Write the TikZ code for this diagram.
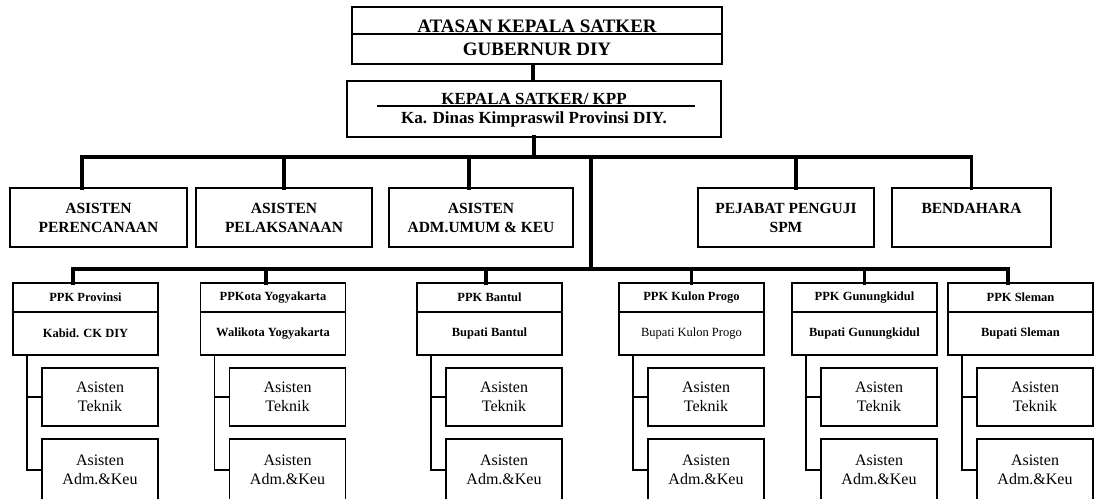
\documentclass[tikz,border=0pt]{standalone}
\usepackage{fontspec}
\setmainfont{Liberation Serif}
\usepackage{tikz}
\usetikzlibrary{positioning}

\begin{document}
\begin{tikzpicture}[x=1pt,y=-1pt,
  box/.style={draw, line width=1.3pt, outer sep=0pt, inner sep=0pt, align=center},
  headbox/.style={box, minimum width=176, minimum height=59, font=\fontsize{15.5}{19}\selectfont\bfseries},
  ppkbox/.style={box, minimum width=\ppkw, font=\fontsize{12.5}{15}\selectfont\bfseries},
  subbox/.style={box, minimum width=\subw, minimum height=58, font=\fontsize{16}{18.5}\selectfont},
  bar/.style={line width=3.2pt, line cap=rect},
  twig/.style={line width=1.4pt}]
\pgfmathsetmacro{\ppkw}{145}
\pgfmathsetmacro{\subw}{116}
\clip (0,0) rectangle (1094,498);
% atasan / kepala satker
\node[box, minimum width=370, minimum height=57] (atasan) at (537,35.5) {};
\draw[line width=1.3pt] ([yshift=1.5pt]atasan.west) -- ([yshift=1.5pt]atasan.east);
\node[anchor=base, font=\fontsize{19}{23}\selectfont\bfseries] (atasantxt) at (537,32) {ATASAN KEPALA SATKER};
\node[anchor=base, font=\fontsize{19}{23}\selectfont\bfseries] (gubernur) at (537,55) {GUBERNUR DIY};
\node[box, minimum width=374, minimum height=56] (kepala) at (534,109) {};
\node[anchor=base, font=\fontsize{17}{20}\selectfont\bfseries] (kepalatxt) at (534,104) {KEPALA SATKER/ KPP};
\draw[line width=1.3pt] ([xshift=-157pt,yshift=3pt]kepala.center) -- ([xshift=161pt,yshift=3pt]kepala.center);
\node[anchor=base, font=\fontsize{17}{20}\selectfont\bfseries] (dinas) at (534,123) {Ka. Dinas Kimpraswil Provinsi DIY.};
\draw[bar, line cap=butt] ([xshift=-4pt]atasan.south) -- ([xshift=-4pt]atasan.south |- kepala.north);
% asisten
\node[headbox, minimum width=177] (perencanaan) at (98.5,217.5) {ASISTEN\\PERENCANAAN};
\node[headbox] (pelaksanaan) at (284,217.5) {ASISTEN\\PELAKSANAAN};
\node[headbox, minimum width=184] (admumum) at (481,217.5) {ASISTEN\\ADM.UMUM \& KEU};
\node[headbox] (pejabat) at (786,217.5) {PEJABAT PENGUJI\\SPM};
\node[headbox, minimum width=159] (bendahara) at (971.5,217.5) {BENDAHARA\\\phantom{SPM}};
\coordinate (hub) at (534,157);
\coordinate (hubb) at (591,269);
\draw[bar] (kepala.south) -- (hub);
\draw[bar] ([xshift=-16.5pt]perencanaan.north) |- (bendahara.north |- hub) -- (bendahara.north);
\draw[bar] (pelaksanaan.north) -- (pelaksanaan.north |- hub);
\draw[bar] ([xshift=-12pt]admumum.north) -- ([xshift=-12pt]admumum.north |- hub);
\draw[bar] ([xshift=10pt]pejabat.north) -- ([xshift=10pt]pejabat.north |- hub);
\draw[bar] (hubb |- hub) -- (hubb);
% ppk
\foreach \n/\cx/\off/\ppk/\kepalappk in {prov/85.5/-12.5/PPK Provinsi/Kabid. CK DIY,
    kota/273/-7/PPKota Yogyakarta/Walikota Yogyakarta,
    bantul/489.5/-3.5/PPK Bantul/Bupati Bantul,
    kulon/691.5/0/PPK Kulon Progo/{\mdseries Bupati Kulon Progo},
    gunung/864.5/0/PPK Gunungkidul/Bupati Gunungkidul,
    sleman/1020.5/-12.5/PPK Sleman/Bupati Sleman}{
  \node[ppkbox, minimum height=29] (ppk\n) at (\cx,297.5) {\ppk};
  \node[ppkbox, minimum height=43, below=0pt of ppk\n] (bupati\n) {\kepalappk};
  \node[subbox, anchor=north east] (teknik\n) at ([yshift=-13pt]bupati\n.south east) {Asisten\\Teknik};
  \node[subbox, minimum height=62, below=13pt of teknik\n] (adm\n) {Asisten\\Adm.\&Keu};
  \draw[twig] ([xshift=14pt]bupati\n.south west) |- (teknik\n.west);
  \draw[twig] ([xshift=14pt]bupati\n.south west) |- (adm\n.west);
  \draw[bar] ([xshift=\off pt]ppk\n.north) -- ([xshift=\off pt]ppk\n.north |- hubb);
}
\draw[bar] ([xshift=-12.5pt]ppkprov.north |- hubb) -- ([xshift=-12.5pt]ppksleman.north |- hubb);
\end{tikzpicture}
\end{document}
